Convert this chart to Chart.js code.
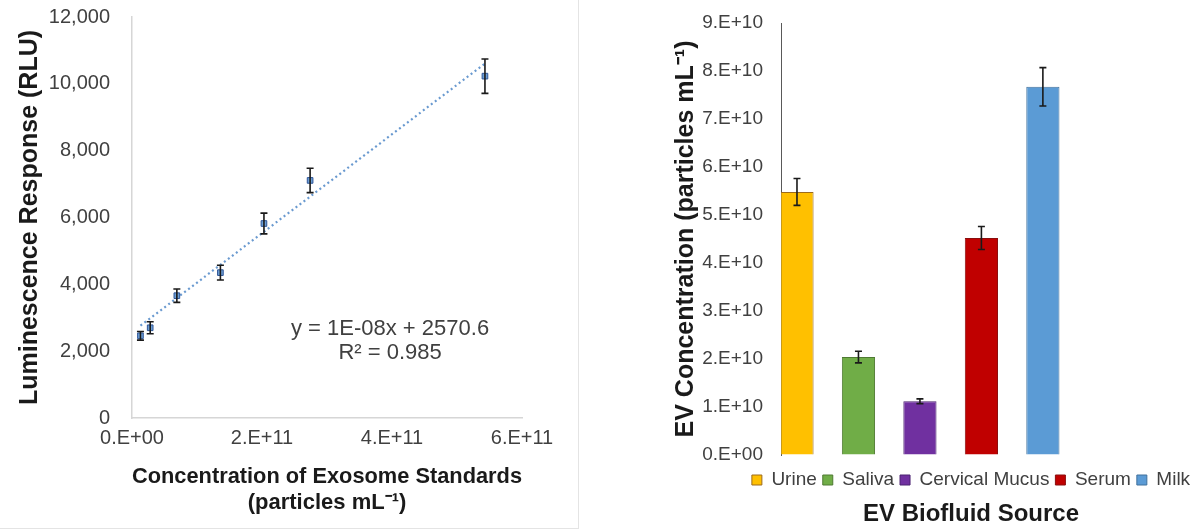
<!DOCTYPE html>
<html>
<head>
<meta charset="utf-8">
<script src="https://cdn.jsdelivr.net/npm/chart.js@4.4.1/dist/chart.umd.min.js"></script>
<style>
  html, body { margin: 0; padding: 0; background: #ffffff; overflow: hidden; }
  body { width: 1196px; height: 531px; position: relative; }
  #left { position: absolute; left: 0; top: 0; width: 578px; height: 528px;
          border-right: 1px solid #e4e4e4; border-bottom: 1px solid #e4e4e4; }
  #right { position: absolute; left: 652px; top: 0; width: 638px; height: 531px; }
  canvas { display: block; }
</style>
</head>
<body>
<div id="left"><canvas id="calib"></canvas></div>
<div id="right"><canvas id="biofluid"></canvas></div>
<script>
// ---- Calibration curve: exosome standards ----
const standardConc = [1.3e10, 2.8e10, 6.9e10, 1.36e11, 2.03e11, 2.74e11, 5.43e11];
const standardRLU = [2460, 2700, 3660, 4350, 5820, 7110, 10230];
const standardErr = [130, 180, 200, 220, 310, 365, 515];
const trendSlope = 1.48e-8;
const trendIntercept = 2570.6;
const fitText = ['y = 1E-08x + 2570.6', 'R\u00B2 = 0.985'];
const rluTicks = [0, 2000, 4000, 6000, 8000, 10000, 12000];
const concTicks = [0, 2e11, 4e11, 6e11];

// ---- EV concentration by biofluid ----
const sources = ['Urine', 'Saliva', 'Cervical Mucus', 'Serum', 'Milk'];
const evConc = [5.48e10, 2.04e10, 1.12e10, 4.52e10, 7.67e10];
const evErr = [0.28e10, 0.12e10, 0.05e10, 0.24e10, 0.40e10];
const evTicks = [0, 1e10, 2e10, 3e10, 4e10, 5e10, 6e10, 7e10, 8e10, 9e10];

const fillColors = ['#FFC000', '#70AD47', '#7030A0', '#C00000', '#5B9BD5'];
const edgeColors = ['#9C6B1C', '#4E7A32', '#4B2270', '#8A0E0E', '#41719C'];

Chart.defaults.font.family = '"Liberation Sans", Arial, sans-serif';
Chart.defaults.color = '#404040';

// Excel-style scientific tick text, e.g. 2.E+11
function sciLabel(v) {
  if (v === 0) return '0.E+00';
  const exp = Math.floor(Math.log10(Math.abs(v)) + 1e-9);
  const mant = Math.round(v / Math.pow(10, exp));
  return mant + '.E+' + String(exp).padStart(2, '0');
}

// Vertical error bars with caps, read from dataset.errors
const errorBars = {
  id: 'errorBars',
  afterDatasetsDraw(chart, args, opts) {
    const ctx = chart.ctx;
    const yScale = chart.scales.y;
    chart.data.datasets.forEach((ds, di) => {
      if (!ds.errors) return;
      const meta = chart.getDatasetMeta(di);
      meta.data.forEach((el, i) => {
        const raw = ds.data[i];
        const v = typeof raw === 'object' ? raw.y : raw;
        const e = ds.errors[i];
        const x = el.x;
        const yTop = yScale.getPixelForValue(v + e);
        const yBot = yScale.getPixelForValue(v - e);
        ctx.save();
        ctx.strokeStyle = opts.color;
        ctx.lineWidth = opts.width;
        ctx.beginPath();
        ctx.moveTo(x, yTop); ctx.lineTo(x, yBot);
        ctx.moveTo(x - opts.cap, yTop); ctx.lineTo(x + opts.cap, yTop);
        ctx.moveTo(x - opts.cap, yBot); ctx.lineTo(x + opts.cap, yBot);
        ctx.stroke();
        ctx.restore();
      });
    });
  }
};

// Regression equation text placed in data coordinates
const fitLabel = {
  id: 'fitLabel',
  afterDraw(chart, args, opts) {
    const { ctx, scales: { x, y } } = chart;
    ctx.save();
    ctx.font = opts.size + 'px "Liberation Sans", Arial, sans-serif';
    ctx.fillStyle = opts.color;
    ctx.textAlign = 'center';
    ctx.textBaseline = 'middle';
    const cx = x.getPixelForValue(opts.x);
    const cy = y.getPixelForValue(opts.y);
    opts.lines.forEach((t, i) => ctx.fillText(t, cx, cy + i * opts.gap));
    ctx.restore();
  }
};

// Keep axis boxes at their fitted size without extra label overhang
function lockVertical(width) {
  return s => { s.width = width; s.paddingTop = 0; s.paddingBottom = 0; };
}
function lockHorizontal(height) {
  return s => { s.height = height; s.paddingLeft = 0; s.paddingRight = 0; };
}

const xMin = Math.min(...standardConc);
const xMax = Math.max(...standardConc);

new Chart(document.getElementById('calib'), {
  type: 'scatter',
  data: {
    datasets: [
      {
        label: 'Standards',
        data: standardConc.map((c, i) => ({ x: c, y: standardRLU[i] })),
        errors: standardErr,
        pointStyle: 'rect',
        pointRadius: 4,
        backgroundColor: '#6C9FD6',
        borderColor: '#2F5597',
        borderWidth: 1,
        order: 1
      },
      {
        type: 'line',
        label: 'Linear fit',
        data: [
          { x: xMin, y: trendSlope * xMin + trendIntercept },
          { x: xMax, y: trendSlope * xMax + trendIntercept }
        ],
        borderColor: '#6A9AD0',
        borderWidth: 2.2,
        borderDash: [2, 3],
        pointRadius: 0,
        fill: false,
        order: 2
      }
    ]
  },
  options: {
    responsive: true,
    maintainAspectRatio: false,
    animation: false,
    layout: { padding: { top: 17, right: 56, left: 0, bottom: 0 } },
    plugins: {
      legend: { display: false },
      tooltip: { enabled: false },
      errorBars: { color: '#1a1a1a', width: 1.6, cap: 3.5 },
      fitLabel: { lines: fitText, x: 3.97e11, y: 2670, gap: 24, size: 22, color: '#404040' }
    },
    scales: {
      x: {
        type: 'linear',
        min: 0,
        max: 6e11,
        afterBuildTicks: s => { s.ticks = concTicks.map(v => ({ value: v })); },
        ticks: { callback: v => sciLabel(v), font: { size: 20 }, color: '#404040',
                 padding: 8, maxRotation: 0, autoSkip: false },
        grid: { display: true, color: 'rgba(0,0,0,0)', drawTicks: false },
        border: { color: '#d6d6d6', width: 1.5 },
        title: {
          display: true,
          text: ['Concentration of Exosome Standards', '(particles mL\u207B\u00B9)'],
          font: { size: 22, weight: 'bold', lineHeight: 1.18 },
          color: '#1a1a1a',
          padding: { top: 0, bottom: 12 }
        },
        afterFit: s => { s.height = 110; }
      },
      y: {
        min: 0,
        max: 12000,
        afterBuildTicks: s => { s.ticks = rluTicks.map(v => ({ value: v })); },
        ticks: { callback: v => v.toLocaleString('en-US'), font: { size: 20 }, color: '#404040', padding: 22 },
        grid: { display: true, color: 'rgba(0,0,0,0)', drawTicks: false },
        border: { color: '#d6d6d6', width: 1.5 },
        title: {
          display: true,
          text: 'Luminescence Response (RLU)',
          font: { size: 25, weight: 'bold' },
          color: '#1a1a1a',
          padding: { top: 15, bottom: 0 }
        },
        afterFit: lockVertical(132)
      }
    }
  },
  plugins: [errorBars, fitLabel]
});

new Chart(document.getElementById('biofluid'), {
  type: 'bar',
  data: {
    datasets: sources.map((name, i) => ({
      label: name,
      data: [{ x: i, y: evConc[i] }],
      errors: [evErr[i]],
      backgroundColor: fillColors[i],
      borderColor: edgeColors[i],
      borderWidth: 1
    }))
  },
  options: {
    responsive: true,
    maintainAspectRatio: false,
    animation: false,
    datasets: { bar: { grouped: false, barPercentage: 0.54, categoryPercentage: 1 } },
    layout: { padding: { top: 23, right: 0, left: 0, bottom: 0 } },
    plugins: {
      tooltip: { enabled: false },
      legend: {
        position: 'bottom',
        labels: { boxWidth: 10, boxHeight: 10, padding: 6, font: { size: 19 }, color: '#404040' }
      },
      title: {
        display: true,
        position: 'bottom',
        text: 'EV Biofluid Source',
        font: { size: 24, weight: 'bold' },
        color: '#1a1a1a',
        padding: { top: 0, bottom: 2.7 }
      },
      errorBars: { color: '#1a1a1a', width: 1.6, cap: 3.5 }
    },
    scales: {
      x: {
        type: 'linear',
        min: -0.26,
        max: 8.02,
        offset: false,
        afterBuildTicks: s => { s.ticks = sources.map((_, i) => ({ value: i })); },
        ticks: { display: false },
        grid: { display: false },
        border: { display: false },
        afterFit: lockHorizontal(9.5)
      },
      y: {
        min: 0,
        max: 9e10,
        afterBuildTicks: s => { s.ticks = evTicks.map(v => ({ value: v })); },
        ticks: { callback: v => sciLabel(v), font: { size: 19 }, color: '#404040', padding: 18 },
        grid: { display: true, color: 'rgba(0,0,0,0)', drawTicks: false },
        border: { color: '#595959', width: 1 },
        title: {
          display: true,
          text: 'EV Concentration (particles mL\u207B\u00B9)',
          font: { size: 25, weight: 'bold' },
          color: '#1a1a1a',
          padding: { top: 19, bottom: 0 }
        },
        afterFit: lockVertical(129)
      }
    }
  },
  plugins: [errorBars]
});
</script>
</body>
</html>
